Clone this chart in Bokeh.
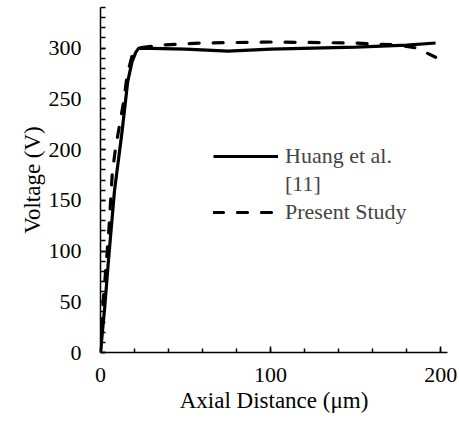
from bokeh.plotting import figure
from bokeh.models import Range1d, SingleIntervalTicker, Legend, LegendItem
from bokeh.embed import file_html
from bokeh.resources import INLINE

# Huang et al. [11]
huang_x = [0, 2.5, 4.5, 8.2, 12.7, 16, 18.6, 20.8, 22.5, 50, 75, 100, 150, 180, 197]
huang_v = [0, 45, 87, 159, 218, 267, 287, 296, 300, 299, 297, 299, 301, 303, 305]

# Present Study
study_x = [0, 1, 4.9, 6.9, 8.8, 13.7, 15.7, 18.5, 22, 35, 60, 100, 150, 175, 186, 197]
study_v = [0, 38, 120, 176, 201, 248, 274, 292, 300, 303, 305, 306, 305, 303, 300, 291]

FONT = "Liberation Serif"

p = figure(width=459, height=430, output_backend="svg", toolbar_location=None,
           x_range=Range1d(0, 204), y_range=Range1d(0, 340),
           min_border_left=100, min_border_right=12, min_border_top=7, min_border_bottom=78)
p.outline_line_color = None
p.grid.grid_line_color = None
p.background_fill_color = "white"
p.border_fill_color = "white"

r1 = p.line(huang_x, huang_v, line_color="black", line_width=3.2)
r2 = p.line(study_x, study_v, line_color="black", line_width=3.2, line_dash="10 14", line_cap="round")

p.xaxis.ticker = SingleIntervalTicker(interval=100, num_minor_ticks=5)
p.yaxis.ticker = SingleIntervalTicker(interval=50, num_minor_ticks=5)

for ax in (p.xaxis[0], p.yaxis[0]):
    ax.axis_line_color = "black"
    ax.axis_line_width = 1.5
    ax.major_tick_line_color = "black"
    ax.minor_tick_line_color = "black"
    ax.major_tick_line_width = 1.5
    ax.minor_tick_line_width = 1.5
    ax.major_tick_out = 0
    ax.minor_tick_out = 0
    ax.major_tick_in = 6
    ax.minor_tick_in = 4
    ax.major_label_text_font = FONT
    ax.major_label_text_font_size = "22px"
    ax.major_label_text_color = "black"
    ax.axis_label_text_font = FONT
    ax.axis_label_text_font_size = "23px"
    ax.axis_label_text_font_style = "normal"
    ax.axis_label_text_color = "black"

p.yaxis.minor_tick_in = 5
p.yaxis.major_tick_in = 5
p.xaxis.axis_label = "Axial Distance (μm)"
p.yaxis.axis_label = "Voltage (V)"
p.xaxis.major_label_standoff = 15
p.yaxis.major_label_standoff = 19
p.xaxis.axis_label_standoff = 3
p.yaxis.axis_label_standoff = 1

legend = Legend(items=[LegendItem(label="Huang et al.", renderers=[r1]),
                       LegendItem(label="[11]", renderers=[]),
                       LegendItem(label="Present Study", renderers=[r2])],
                location=(113, 127), padding=0, margin=0, border_line_color=None,
                background_fill_alpha=0, glyph_width=65, glyph_height=20, label_height=20,
                label_text_font=FONT, label_text_font_size="22px", label_standoff=7,
                spacing=2)
p.add_layout(legend)

open("out.html", "w").write(file_html(p, INLINE))
